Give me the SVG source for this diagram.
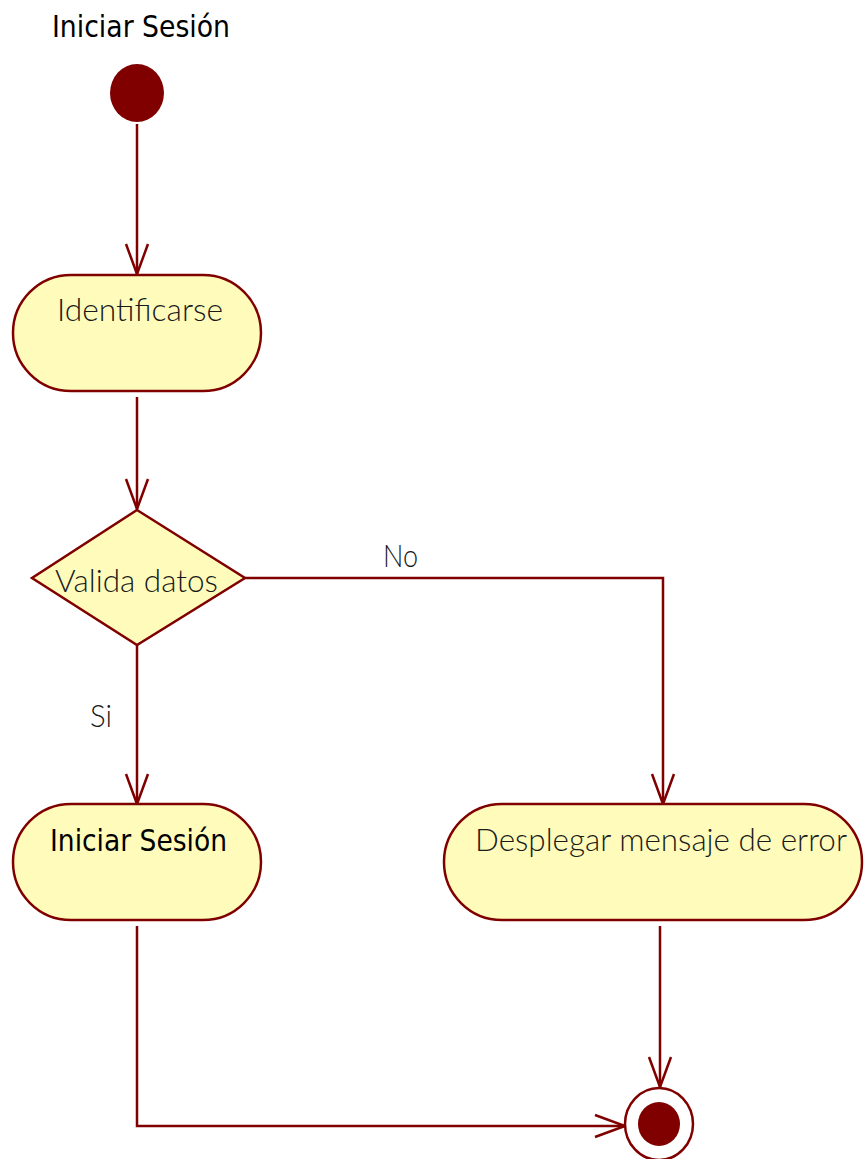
<svg xmlns="http://www.w3.org/2000/svg" width="864" height="1159" viewBox="0 0 864 1159">
<defs>
<marker id="arr" markerUnits="userSpaceOnUse" markerWidth="40" markerHeight="30" viewBox="-32 -15 34 30" refX="0" refY="0" orient="auto">
<path d="M-30,-11 L0,0 L-30,11" fill="none" stroke="#800000" stroke-width="2.5"/>
</marker>
</defs>
<style>
.act{fill:#FFFCBB;stroke:#800000;stroke-width:2.5}
.ln{fill:none;stroke:#800000;stroke-width:2.5}
.lbl{font-family:Lato,"Open Sans","Liberation Sans",sans-serif;font-weight:300;font-size:31px;fill:#1a1a1a}
.bold{font-family:"DejaVu Sans Condensed","Liberation Sans",sans-serif;font-size:30px;fill:#000}
</style>
<rect width="864" height="1159" fill="#fff"/>
<text class="bold" x="52" y="37" textLength="178" lengthAdjust="spacingAndGlyphs">Iniciar Sesión</text>
<g id="connectors">
<path class="ln" d="M137,124 L137,274" marker-end="url(#arr)"/>
<path class="ln" d="M137,397 L137,509" marker-end="url(#arr)"/>
<path class="ln" d="M245,578 L663,578 L663,804" marker-end="url(#arr)"/>
<path class="ln" d="M137,645 L137,804" marker-end="url(#arr)"/>
<path class="ln" d="M660,926 L660,1087" marker-end="url(#arr)"/>
<path class="ln" d="M137,926 L137,1126 L625,1126" marker-end="url(#arr)"/>
<text class="lbl" x="383" y="567" textLength="35" lengthAdjust="spacingAndGlyphs">No</text>
<text class="lbl" x="90" y="727" textLength="22" lengthAdjust="spacingAndGlyphs">Si</text>
</g>
<g id="start">
<ellipse cx="137" cy="93" rx="27" ry="29" fill="#800000"/>
</g>
<g id="identificarse">
<rect class="act" x="13" y="275" width="248" height="116" rx="58" ry="58"/>
<text class="lbl" x="57" y="321" textLength="166" lengthAdjust="spacingAndGlyphs">Identificarse</text>
</g>
<g id="valida">
<polygon class="act" points="137,510 245,578 137,645 32,578"/>
<text class="lbl" x="55" y="592" textLength="163" lengthAdjust="spacingAndGlyphs">Valida datos</text>
</g>
<g id="iniciar">
<rect class="act" x="13" y="804" width="248" height="116" rx="58" ry="58"/>
<text class="bold" x="50" y="851" textLength="177" lengthAdjust="spacingAndGlyphs">Iniciar Sesión</text>
</g>
<g id="desplegar">
<rect class="act" x="444" y="804" width="418" height="116" rx="58" ry="58"/>
<text class="lbl" x="475" y="851" textLength="372" lengthAdjust="spacingAndGlyphs">Desplegar mensaje de error</text>
</g>
<g id="end">
<ellipse cx="659" cy="1124" rx="34" ry="36" fill="#fff" stroke="#800000" stroke-width="2.5"/>
<ellipse cx="659" cy="1124" rx="21" ry="22" fill="#800000"/>
</g>
</svg>
